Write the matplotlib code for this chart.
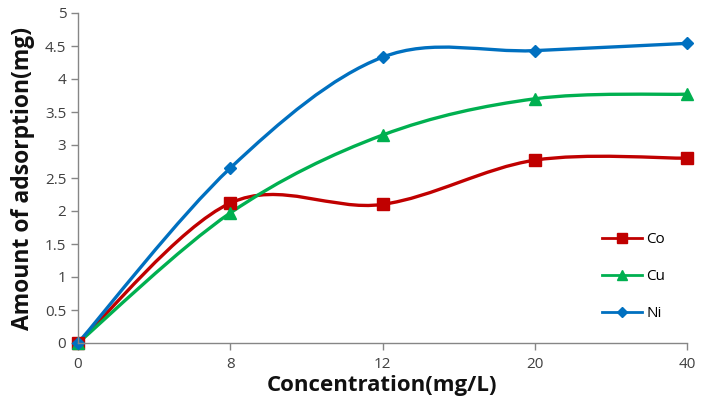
import numpy as np
import matplotlib
matplotlib.use("Agg")
from matplotlib import pyplot as plt
from matplotlib.path import Path
from matplotlib.patches import PathPatch
from matplotlib.lines import Line2D

# Data.
concentrations = ["0", "8", "12", "20", "40"]
co_values = [0, 2.12, 2.10, 2.77, 2.80]
cu_values = [0, 1.97, 3.15, 3.70, 3.77]
ni_values = [0, 2.65, 4.33, 4.43, 4.54]

series = [
    ("Co", co_values, "#C00000", "s", 8),
    ("Cu", cu_values, "#00B050", "^", 8.5),
    ("Ni", ni_values, "#0070C0", "D", 6.5),
]


def smooth_path(x, y):
    # Excel-style smoothed line: cubic Bezier segments through the points.
    pts = np.column_stack([x, y]).astype(float)
    n = len(pts)
    verts = [pts[0]]
    codes = [Path.MOVETO]
    for i in range(n - 1):
        p0 = pts[i - 1] if i > 0 else pts[i]
        p1 = pts[i]
        p2 = pts[i + 1]
        p3 = pts[i + 2] if i + 2 < n else pts[i + 1]
        c1 = p1 + (p2 - p0) / 6.0
        c2 = p2 - (p3 - p1) / 6.0
        verts += [c1, c2, p2]
        codes += [Path.CURVE4] * 3
    return Path(verts, codes)


fig = plt.figure(figsize=(7.01, 4.05), dpi=100)
ax = fig.add_axes([78 / 701, 62 / 405, 609 / 701, 330 / 405])

x = np.arange(len(concentrations))
handles = []
for name, vals, color, marker, ms in series:
    patch = PathPatch(smooth_path(x, vals), facecolor="none", edgecolor=color,
                      lw=2.4, capstyle="round", joinstyle="round")
    ax.add_patch(patch)
    ax.plot(x, vals, linestyle="none", marker=marker, color=color,
            markersize=ms, clip_on=False)
    handles.append(Line2D([], [], color=color, lw=2.0, marker=marker,
                          markersize=ms * 0.85, label=name))

ax.set_xlim(0, len(concentrations) - 1)
ax.set_ylim(0, 5)
ax.set_xticks(x)
ax.set_xticklabels(concentrations)
ax.set_yticks(np.arange(0, 5.01, 0.5))
ax.set_yticklabels(["0", "0.5", "1", "1.5", "2", "2.5", "3", "3.5", "4", "4.5", "5"])

for side in ["top", "right"]:
    ax.spines[side].set_visible(False)
for side in ["left", "bottom"]:
    ax.spines[side].set_color("#868686")
    ax.spines[side].set_linewidth(1.0)
ax.tick_params(axis="both", colors="#868686", length=5, width=1.0,
               labelcolor="#404040", labelsize=11)
ax.tick_params(axis="x", pad=5)
for lab in ax.get_xticklabels() + ax.get_yticklabels():
    lab.set_family("Open Sans")

ax.set_xlabel("Concentration(mg/L)", fontsize=16, fontweight="bold",
              family="Open Sans", color="#111111", labelpad=2)
ax.set_ylabel("Amount of adsorption(mg)", fontsize=16.5, fontweight="bold",
              family="Open Sans", color="#111111", labelpad=7)

leg = ax.legend(handles=handles, loc="upper left",
                bbox_to_anchor=(602 / 701, 1 - 232 / 405),
                bbox_transform=fig.transFigure, borderpad=0, borderaxespad=0,
                frameon=False, handlelength=2.6, labelspacing=1.45,
                handletextpad=0.3, prop={"family": "Open Sans", "size": 11})

fig.savefig("out.png", dpi=100)
